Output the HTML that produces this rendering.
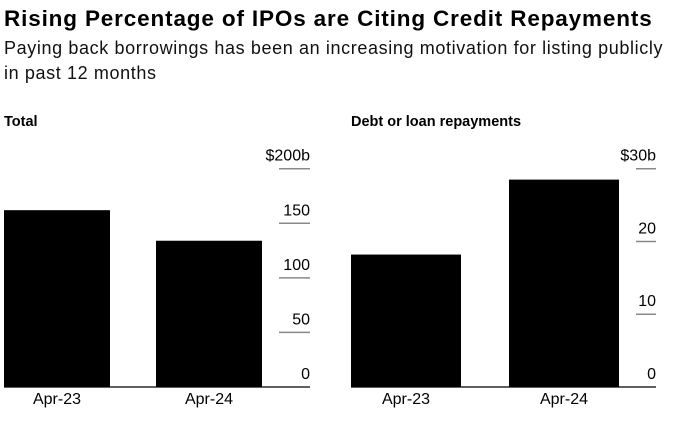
<!DOCTYPE html>
<html><head><meta charset="utf-8">
<style>
body{margin:0;background:#fff;font-family:"Liberation Sans",Arial,sans-serif;color:#000;}
#wrap{position:relative;width:674px;height:421px;overflow:hidden;}
.t{position:absolute;left:4px;top:6px;font-size:22.5px;font-weight:bold;letter-spacing:0.85px;white-space:nowrap;}
.s{position:absolute;left:4px;top:36px;font-size:18px;line-height:25px;width:672px;color:#111;letter-spacing:0.62px;white-space:nowrap;}
.h{position:absolute;top:114px;font-size:14.5px;font-weight:bold;}
</style></head><body>
<div id="wrap">
<div class="t">Rising Percentage of IPOs are Citing Credit Repayments</div>
<div class="s">Paying back borrowings has been an increasing motivation for listing publicly<br>in past 12 months</div>
<div class="h" style="left:4px">Total</div>
<div class="h" style="left:351px">Debt or loan repayments</div>
<svg id="svg" width="674" height="421" style="position:absolute;left:0;top:0"></svg>
</div>
<script>
const categories=["Apr-23","Apr-24"];
const totalValues=[162,134];
const debtValues=[18.2,28.5];
const totalTicks=[0,50,100,150,200];
const totalTickLabels=["0","50","100","150","$200b"];
const debtTicks=[0,10,20,30];
const debtTickLabels=["0","10","20","$30b"];
const NS="http://www.w3.org/2000/svg";
const svg=document.getElementById('svg');
function mk(tag,attrs){const e=document.createElementNS(NS,tag);for(const k in attrs)e.setAttribute(k,attrs[k]);svg.appendChild(e);return e;}
function panel(values,ticks,labels,max,bx,bw,tickX0,tickX1,axisX0,prefix){
  const y0=387,y1=168.7;
  const y=v=>y0-(v/max)*(y0-y1);
  ticks.forEach((t,i)=>{
    if(t>0){const l=mk('line',{x1:tickX0,x2:tickX1,y1:y(t),y2:y(t),stroke:'#888','stroke-width':1.5});
    
    }
    const tx=mk('text',{x:tickX1,y:y(t)-8,'text-anchor':'end','font-size':16,fill:'#000'});
    tx.textContent=labels[i];
    
    
  });
  values.forEach((v,i)=>{
    const r=mk('rect',{x:bx[i],y:y(v),width:bw,height:y0-y(v),fill:'#000'});
    
    
    const tx=mk('text',{x:bx[i]+bw/2,y:y0+17,'text-anchor':'middle','font-size':16,fill:'#000'});
    tx.textContent=categories[i];
    
    
  });
  const ax=mk('line',{x1:axisX0,x2:tickX1,y1:y0,y2:y0,stroke:'#000','stroke-width':1.2});
  
  
}
panel(totalValues,totalTicks,totalTickLabels,200,[4,156],106,279,310,4,'total');
panel(debtValues,debtTicks,debtTickLabels,30,[351,509],110,636,656,351,'debt');
</script>
</body></html>
